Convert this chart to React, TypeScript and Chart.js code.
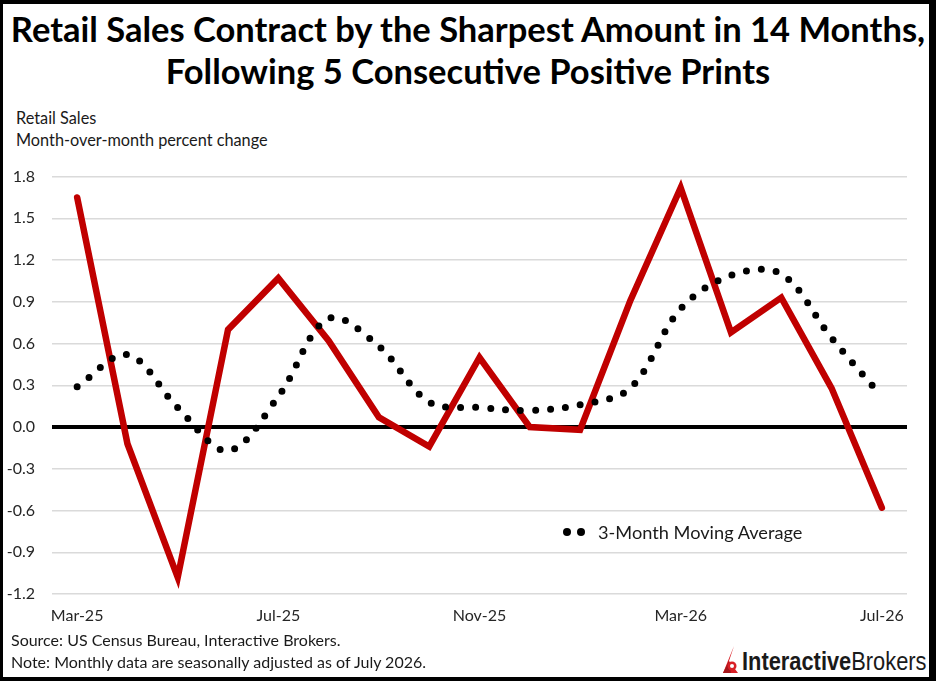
import { useEffect, useRef } from "react";
import { Chart, registerables } from "chart.js";

Chart.register(...registerables);

// Data
const months = [
  "Mar-25", "Apr-25", "May-25", "Jun-25", "Jul-25", "Aug-25", "Sep-25", "Oct-25", "Nov-25",
  "Dec-25", "Jan-26", "Feb-26", "Mar-26", "Apr-26", "May-26", "Jun-26", "Jul-26",
];
const shownMonths = ["Mar-25", "Jul-25", "Nov-25", "Mar-26", "Jul-26"];
const retailSales = [1.65, -0.12, -1.08, 0.7, 1.07, 0.62, 0.07, -0.14, 0.5, 0.0, -0.02, 0.91, 1.72, 0.68, 0.93, 0.28, -0.58];
const movingAverage = [0.29, 0.52, 0.14, -0.17, 0.22, 0.78, 0.58, 0.18, 0.14, 0.12, 0.16, 0.28, 0.85, 1.09, 1.1, 0.64, 0.22];
const yMin = -1.2;
const yMax = 1.8;
const yStep = 0.3;

const FONT = "Lato, 'Open Sans', sans-serif";

const RetailSalesChart = () => {
  const canvasRef = useRef<HTMLCanvasElement>(null);
  const chartRef = useRef<Chart | null>(null);

  useEffect(() => {
    if (!canvasRef.current) return;
    if (chartRef.current) chartRef.current.destroy();

    chartRef.current = new Chart(canvasRef.current, {
      type: "line",
      data: {
        labels: months,
        datasets: [
          {
            label: "3-Month Moving Average",
            data: movingAverage,
            borderColor: "#000000",
            borderWidth: 7,
            borderDash: [0, 15],
            borderCapStyle: "round",
            pointRadius: 0,
            tension: 0.35,
            fill: false,
            order: 0,
          },
          {
            label: "Retail Sales",
            data: retailSales,
            borderColor: "#C00000",
            borderWidth: 6.5,
            borderCapStyle: "round",
            borderJoinStyle: "miter",
            pointRadius: 0,
            tension: 0,
            fill: false,
            order: 1,
          },
        ],
      },
      options: {
        animation: false,
        responsive: true,
        maintainAspectRatio: false,
        layout: { padding: { top: 26, right: 23, left: 0, bottom: 0 } },
        plugins: {
          legend: { display: false },
          tooltip: { enabled: false },
          title: { display: false },
        },
        scales: {
          x: {
            type: "category",
            offset: true,
            afterFit: (scale: any) => {
              scale.height = 36;
            },
            grid: { display: false, drawTicks: false },
            border: { display: false },
            ticks: {
              autoSkip: false,
              maxRotation: 0,
              padding: 12,
              color: "#262626",
              font: { family: FONT, size: 16 },
              callback: (_v: any, i: number) => (shownMonths.includes(months[i]) ? months[i] : ""),
            },
          },
          y: {
            min: yMin,
            max: yMax,
            afterFit: (scale: any) => {
              scale.width = 52;
            },
            border: { display: false },
            grid: {
              drawTicks: false,
              color: (ctx: any) => (Math.abs(ctx.tick.value) < 1e-9 ? "#000000" : "#dadada"),
              lineWidth: (ctx: any) => (Math.abs(ctx.tick.value) < 1e-9 ? 4 : 1.5),
            },
            ticks: {
              stepSize: yStep,
              padding: 17,
              color: "#262626",
              font: { family: FONT, size: 16 },
              callback: (v: any) => Number(v).toFixed(1),
            },
          },
        },
      },
    });

    return () => {
      if (chartRef.current) {
        chartRef.current.destroy();
        chartRef.current = null;
      }
    };
  }, []);

  return <canvas ref={canvasRef}></canvas>;
};

const Logo = () => (
  <div style={{ position: "absolute", left: 722, top: 644, height: 30, display: "flex", alignItems: "flex-end" }}>
    <svg width="17" height="28" viewBox="0 0 17 28" style={{ marginRight: 3 }}>
      <polygon points="1,27 12,0 7,15 16,27" fill="#D81F26" />
      <polygon points="1,27 7,15 9,27" fill="#A5161B" />
      <circle cx="10" cy="20" r="4.5" fill="#D81F26" />
      <circle cx="10" cy="20" r="2" fill="#ffffff" />
    </svg>
    <div
      style={{
        fontFamily: "'Liberation Sans', Arial, sans-serif",
        fontSize: 26,
        lineHeight: "26px",
        color: "#1a1a1a",
        transform: "scaleX(0.84)",
        transformOrigin: "left bottom",
        whiteSpace: "nowrap",
      }}
    >
      <span style={{ fontWeight: 700 }}>Interactive</span>
      <span>Brokers</span>
    </div>
  </div>
);

export default function App() {
  useEffect(() => {
    document.body.style.margin = "0";
  }, []);

  const text = { position: "absolute" as const, fontFamily: FONT, color: "#1a1a1a", whiteSpace: "nowrap" as const };

  return (
    <div style={{ position: "relative", width: 936, height: 681, background: "#ffffff", overflow: "hidden" }}>
      <div
        style={{
          ...text,
          left: 0,
          width: 936,
          top: 8,
          textAlign: "center",
          fontWeight: 700,
          fontSize: 34.5,
          lineHeight: "42px",
          color: "#000000",
        }}
      >
        Retail Sales Contract by the Sharpest Amount in 14 Months,
        <br />
        Following 5 Consecutive Positive Prints
      </div>

      <div style={{ ...text, left: 16, top: 107, fontSize: 16.3, lineHeight: "22px" }}>
        Retail Sales
        <br />
        Month-over-month percent change
      </div>

      <div style={{ position: "absolute", left: 0, top: 150, width: 930, height: 480 }}>
        <RetailSalesChart />
      </div>

      {/* legend inside the plot */}
      <div style={{ position: "absolute", left: 563, top: 528, width: 8, height: 8, borderRadius: 4, background: "#000" }} />
      <div style={{ position: "absolute", left: 577, top: 528, width: 8, height: 8, borderRadius: 4, background: "#000" }} />
      <div style={{ ...text, left: 598, top: 520, fontSize: 18.2, lineHeight: "24px" }}>3-Month Moving Average</div>

      <div style={{ ...text, left: 11, top: 629, fontSize: 16, lineHeight: "22px" }}>
        Source: US Census Bureau, Interactive Brokers.
        <br />
        Note: Monthly data are seasonally adjusted as of July 2026.
      </div>

      <Logo />

      {/* picture frame */}
      <div
        style={{
          position: "absolute",
          inset: 0,
          borderStyle: "solid",
          borderColor: "#000",
          borderWidth: "4px 7px 4px 3px",
          pointerEvents: "none",
        }}
      />
    </div>
  );
}
